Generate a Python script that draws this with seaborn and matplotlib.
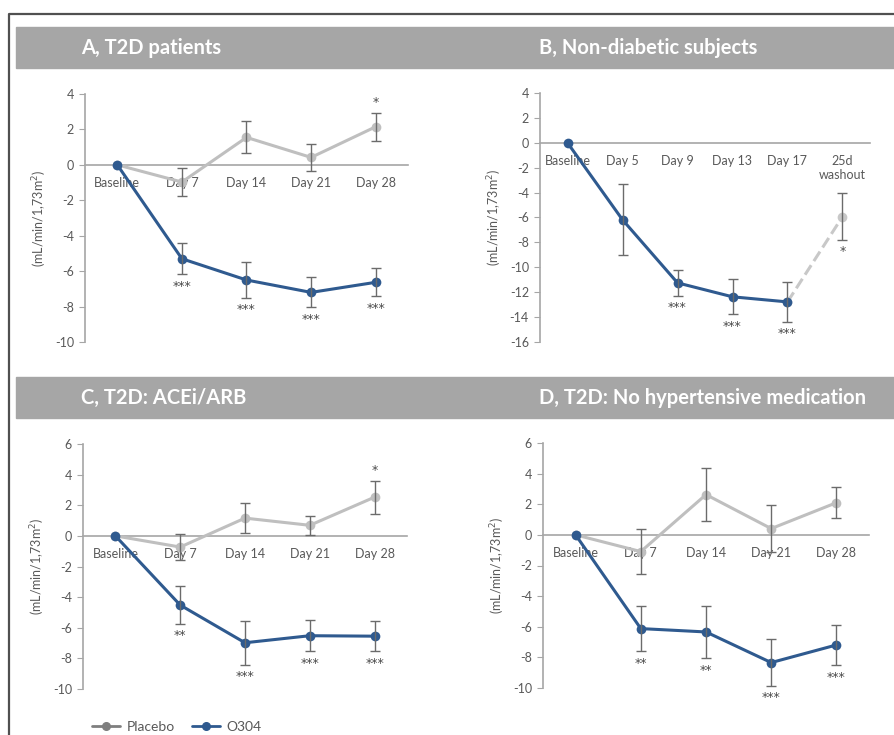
import numpy as np
import pandas as pd
import seaborn as sns
import matplotlib.pyplot as plt
from matplotlib.patches import Rectangle
from matplotlib.lines import Line2D

# --- data ---
days_t2d = ["Baseline", "Day 7", "Day 14", "Day 21", "Day 28"]
days_nd = ["Baseline", "Day 5", "Day 9", "Day 13", "Day 17", "25d\nwashout"]

a_placebo = [0, -0.97, 1.55, 0.42, 2.15]
a_placebo_err = [0, 0.77, 0.90, 0.76, 0.78]
a_placebo_stars = ["", "", "", "", "*"]
a_o304 = [0, -5.30, -6.50, -7.20, -6.63]
a_o304_err = [0, 0.87, 1.00, 0.85, 0.78]
a_o304_stars = ["", "***", "***", "***", "***"]

b_o304 = [0, -6.18, -11.25, -12.37, -12.78]
b_o304_err = [0, 2.85, 1.05, 1.40, 1.60]
b_o304_stars = ["", "", "***", "***", "***"]
b_washout = -5.93
b_washout_err = 1.87
b_washout_star = "*"

c_placebo = [0, -0.73, 1.16, 0.69, 2.53]
c_placebo_err = [0, 0.87, 1.00, 0.64, 1.07]
c_placebo_stars = ["", "", "", "", "*"]
c_o304 = [0, -4.52, -6.98, -6.52, -6.55]
c_o304_err = [0, 1.22, 1.42, 1.01, 0.97]
c_o304_stars = ["", "**", "***", "***", "***"]

d_placebo = [0, -1.09, 2.63, 0.41, 2.10]
d_placebo_err = [0, 1.45, 1.72, 1.55, 1.00]
d_placebo_stars = ["", "", "", "", ""]
d_o304 = [0, -6.12, -6.34, -8.34, -7.19]
d_o304_err = [0, 1.47, 1.70, 1.52, 1.31]
d_o304_stars = ["", "**", "**", "***", "***"]

titles = ["A, T2D patients", "B, Non-diabetic subjects",
          "C, T2D: ACEi/ARB", "D, T2D: No hypertensive medication"]

BLUE = "#2F5A8F"
LGRAY = "#BFBFBF"
ERRC = "#6B6B6B"
TXT = "#595959"
AXC = "#A6A6A6"

sns.set_style("white")
plt.rcParams["font.family"] = ["Lato", "DejaVu Sans"]
plt.rcParams["axes.unicode_minus"] = False

W, H = 895, 735
fig = plt.figure(figsize=(W / 100, H / 100), dpi=100)


def px_axes(l, t, r, b):
    return fig.add_axes([l / W, 1 - b / H, (r - l) / W, (b - t) / H])


def star(ax, s, x, y, above):
    ax.annotate(s, (x, y), xytext=(0, 3 if above else -4), textcoords="offset points",
                ha="center", va="bottom" if above else "top", fontsize=9,
                family="DejaVu Sans", color="#4A4A4A")


def draw_series(ax, vals, errs, stars, color, above, dashed=False):
    x = np.arange(len(vals))
    df = pd.DataFrame({"x": x, "y": vals})
    sns.lineplot(data=df, x="x", y="y", ax=ax, color=color, lw=2.2,
                 marker="o", markersize=7, markeredgewidth=0, sort=False,
                 linestyle="--" if dashed else "-", zorder=3)
    for xi, v, e, s in zip(x, vals, errs, stars):
        if e > 0:
            ax.errorbar(xi, v, yerr=e, fmt="none", ecolor=ERRC, elinewidth=1,
                        capsize=3.5, capthick=1, zorder=4)
        if s:
            star(ax, s, xi, v + e if above else v - e, above)


def style_axes(ax, labels, ylim, ystep):
    n = len(labels)
    ax.set_xlim(-0.5, n - 0.5)
    ax.set_ylim(*ylim)
    ax.set_yticks(np.arange(ylim[0], ylim[1] + 0.1, ystep))
    ax.set_xticks(range(n))
    ax.set_xticklabels(labels)
    ax.set_xticks(np.arange(-0.5, n), minor=True)
    ax.tick_params(axis="x", which="major", length=0, pad=9, labelsize=9, labelcolor=TXT)
    ax.tick_params(axis="x", which="minor", length=4, direction="out", color=AXC)
    ax.tick_params(axis="y", length=4, direction="out", color=AXC, labelsize=9,
                   labelcolor=TXT, left=True, pad=4)
    sns.despine(ax=ax)
    ax.spines["bottom"].set_position(("data", 0))
    for sp in ("left", "bottom"):
        ax.spines[sp].set_color(AXC)
        ax.spines[sp].set_linewidth(1.2)
    ax.set_xlabel("")
    ax.set_ylabel("(mL/min/1,73m$^2$)", fontsize=9, color=TXT)
    ax.yaxis.set_label_coords(-0.11, 0.5)
    ax.patch.set_alpha(0)


# title bands and outer frame
for top in (27, 377):
    fig.patches.append(Rectangle((16 / W, 1 - (top + 41) / H), 1 - 16 / W, 41 / H,
                                 transform=fig.transFigure, color="#A6A6A6", zorder=0))
fig.lines.append(Line2D([9 / W, 9 / W, 1], [0, 1 - 14 / H, 1 - 14 / H],
                        transform=fig.transFigure, color="#505050", lw=1.6))
for t, (x, y) in zip(titles, [(81, 48), (539, 48), (81, 398), (539, 398)]):
    fig.text(x / W, 1 - y / H, t, color="white", fontsize=14.5, fontweight="bold",
             va="center", ha="left")

# panel A
ax = px_axes(85, 94, 408, 342)
draw_series(ax, a_placebo, a_placebo_err, a_placebo_stars, LGRAY, True)
draw_series(ax, a_o304, a_o304_err, a_o304_stars, BLUE, False)
style_axes(ax, days_t2d, (-10, 4), 2)

# panel B
ax = px_axes(540, 93, 870, 342)
wx = [len(b_o304) - 1, len(b_o304)]
dfw = pd.DataFrame({"x": wx, "y": [b_o304[-1], b_washout]})
sns.lineplot(data=dfw, x="x", y="y", ax=ax, color="#C8C8C8", lw=2.2,
             linestyle="--", marker="o", markersize=7, markeredgewidth=0, zorder=2)
ax.errorbar(wx[1], b_washout, yerr=b_washout_err, fmt="none", ecolor=ERRC,
            elinewidth=1, capsize=3.5, capthick=1, zorder=4)
star(ax, b_washout_star, wx[1], b_washout - b_washout_err, False)
draw_series(ax, b_o304, b_o304_err, b_o304_stars, BLUE, False)
style_axes(ax, days_nd, (-16, 4), 2)

# panel C
ax = px_axes(83, 444, 407, 689)
draw_series(ax, c_placebo, c_placebo_err, c_placebo_stars, LGRAY, True)
draw_series(ax, c_o304, c_o304_err, c_o304_stars, BLUE, False)
style_axes(ax, days_t2d, (-10, 6), 2)

# panel D
ax = px_axes(543, 443, 869, 688)
draw_series(ax, d_placebo, d_placebo_err, d_placebo_stars, LGRAY, True)
draw_series(ax, d_o304, d_o304_err, d_o304_stars, BLUE, False)
style_axes(ax, days_t2d, (-10, 6), 2)

# legend
handles = [Line2D([], [], color="#7F7F7F", lw=2, marker="o", markersize=5.5),
           Line2D([], [], color=BLUE, lw=2, marker="o", markersize=5.5)]
fig.legend(handles, ["Placebo", "O304"], loc="center left",
           bbox_to_anchor=(80 / W, 1 - 727 / H), ncol=2, frameon=False,
           fontsize=10, labelcolor=TXT, handlelength=2.0, columnspacing=1.2,
           handletextpad=0.5)

fig.savefig("out.png", dpi=100)
